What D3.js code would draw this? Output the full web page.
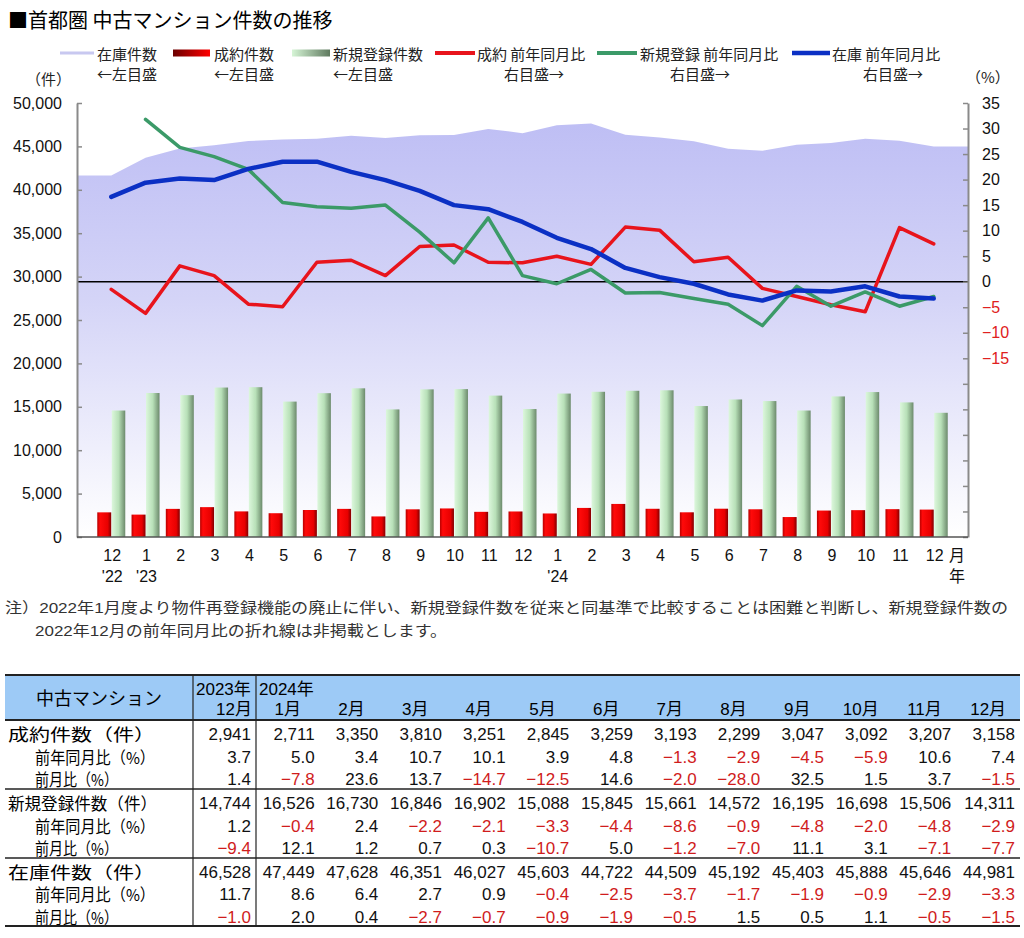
<!DOCTYPE html>
<html>
<head>
<meta charset="utf-8">
<script src="https://cdn.jsdelivr.net/npm/d3@7"></script>
<style>
  body { margin: 0; background: #fff; }
  svg text { font-family: "Liberation Sans", "Noto Sans CJK JP", sans-serif; }
  svg text.jp { font-family: "Noto Sans CJK JP", sans-serif; }
</style>
</head>
<body>
<svg id="chart" width="1024" height="938"></svg>
<script>
// ---- data (Dec 2022 - Dec 2024) ----
const months = ["12","1","2","3","4","5","6","7","8","9","10","11","12","1","2","3","4","5","6","7","8","9","10","11","12"];
const yearLabels = ["'22","'23","","","","","","","","","","","","'24","","","","","","","","","","",""];

// 成約件数
const contracts = [2840, 2580, 3240, 3440, 2950, 2740, 3110, 3240, 2370, 3190, 3290, 2900,
                   2941, 2711, 3350, 3810, 3251, 2845, 3259, 3193, 2299, 3047, 3092, 3207, 3158];
// 新規登録件数
const newListings = [14570, 16590, 16340, 17220, 17260, 15600, 16570, 17130, 14700, 17010, 17040, 16290,
                     14744, 16526, 16730, 16846, 16902, 15088, 15845, 15661, 14572, 16195, 16698, 15506, 14311];
// 在庫件数
const inventory = [41650, 43690, 44760, 45130, 45620, 45790, 45870, 46220, 45970, 46280, 46300, 47010,
                   46528, 47449, 47628, 46351, 46027, 45603, 44722, 44509, 45192, 45403, 45888, 45646, 44981];

// 前年同月比 (%)
const contractYoY = [-1.5, -6.2, 3.1, 1.2, -4.4, -4.9, 3.8, 4.2, 1.2, 6.9, 7.2, 3.8,
                     3.7, 5.0, 3.4, 10.7, 10.1, 3.9, 4.8, -1.3, -2.9, -4.5, -5.9, 10.6, 7.4];
const newYoY = [null, 31.8, 26.3, 24.5, 22.0, 15.5, 14.7, 14.4, 15.0, 9.7, 3.7, 12.5,
                1.2, -0.4, 2.4, -2.2, -2.1, -3.3, -4.4, -8.6, -0.9, -4.8, -2.0, -4.8, -2.9];
const inventoryYoY = [16.6, 19.4, 20.2, 19.9, 22.1, 23.5, 23.5, 21.5, 19.9, 17.8, 15.0, 14.2,
                      11.7, 8.6, 6.4, 2.7, 0.9, -0.4, -2.5, -3.7, -1.7, -1.9, -0.9, -2.9, -3.3];

// 前月比 (%) for the table (Dec 2023 - Dec 2024)
const contractMoM = [1.4, -7.8, 23.6, 13.7, -14.7, -12.5, 14.6, -2.0, -28.0, 32.5, 1.5, 3.7, -1.5];
const newMoM = [-9.4, 12.1, 1.2, 0.7, 0.3, -10.7, 5.0, -1.2, -7.0, 11.1, 3.1, -7.1, -7.7];
const inventoryMoM = [-1.0, 2.0, 0.4, -2.7, -0.7, -0.9, -1.9, -0.5, 1.5, 0.5, 1.1, -0.5, -1.5];

const tableMonths = ["12月","1月","2月","3月","4月","5月","6月","7月","8月","9月","10月","11月","12月"];

const leftTicks = d3.range(0, 50001, 5000);
const rightTicks = d3.range(-50, 36, 5);

// ---- chart ----
const svg = d3.select("#chart");
const plot = {left: 77, right: 968, top: 103, bottom: 537};

const x = d3.scalePoint().domain(d3.range(months.length)).range([plot.left, plot.right]).padding(1);
const yL = d3.scaleLinear().domain([0, 50000]).range([plot.bottom, plot.top]);
const yR = d3.scaleLinear().domain([-50, 35]).range([plot.bottom, plot.top]);

const defs = svg.append("defs");
function grad(id, stops, vertical) {
  const g = defs.append("linearGradient").attr("id", id);
  if (vertical) g.attr("gradientUnits", "userSpaceOnUse").attr("x1", 0).attr("x2", 0).attr("y1", plot.top).attr("y2", plot.bottom);
  else g.attr("x1", 0).attr("x2", 1).attr("y1", 0).attr("y2", 0);
  stops.forEach(s => g.append("stop").attr("offset", s[0]).attr("stop-color", s[1]));
}
grad("areaFill", [[0, "#bcbcf4"], [0.45, "#d4d4f7"], [1, "#ffffff"]], true);
grad("redBar", [[0, "#b80000"], [0.2, "#ff0a0a"], [0.75, "#e80000"], [1, "#800000"]]);
grad("greenBar", [[0, "#dcf7dc"], [0.5, "#b8e0b8"], [1, "#6c8a6c"]]);
grad("redSwatch", [[0, "#6a0000"], [1, "#ff0000"]]);
grad("greenSwatch", [[0, "#d6f5d6"], [1, "#5f7a5f"]]);

// inventory area, stretched flat to the plot edges
const areaPts = [[plot.left, inventory[0]]]
  .concat(inventory.map((v, i) => [x(i), v]))
  .concat([[plot.right, inventory[inventory.length - 1]]]);
svg.append("path")
  .datum(areaPts)
  .attr("fill", "url(#areaFill)")
  .attr("d", d3.area().x(d => d[0]).y0(yL(0)).y1(d => yL(d[1])));

// bars
svg.append("g").selectAll("rect")
  .data(contracts)
  .join("rect")
    .attr("x", (d, i) => x(i) - 14)
    .attr("width", 14)
    .attr("y", d => yL(d))
    .attr("height", d => yL(0) - yL(d))
    .attr("fill", "url(#redBar)");

svg.append("g").selectAll("rect")
  .data(newListings)
  .join("rect")
    .attr("x", (d, i) => x(i) + 0.5)
    .attr("width", 13.5)
    .attr("y", d => yL(d))
    .attr("height", d => yL(0) - yL(d))
    .attr("fill", "url(#greenBar)");

// zero line of the right axis
svg.append("line")
  .attr("x1", plot.left).attr("x2", plot.right)
  .attr("y1", yR(0)).attr("y2", yR(0))
  .attr("stroke", "#000").attr("stroke-width", 1.5);

// axes
const leftAxis = svg.append("g")
  .attr("transform", `translate(${plot.left},0)`)
  .call(d3.axisLeft(yL).tickValues(leftTicks).tickFormat(d3.format(",")).tickSizeInner(-5).tickSizeOuter(0).tickPadding(15));
const rightAxis = svg.append("g")
  .attr("transform", `translate(${plot.right},0)`)
  .call(d3.axisRight(yR).tickValues(rightTicks).tickFormat(d => d >= -15 ? d3.format("d")(d) : "").tickSizeInner(-5).tickSizeOuter(0).tickPadding(14));
[leftAxis, rightAxis].forEach(a => {
  a.select(".domain").attr("stroke", "#8a8a8a").attr("stroke-width", 2);
  a.selectAll(".tick line").attr("stroke", "#8a8a8a").attr("stroke-width", 1.5);
  a.selectAll(".tick text").attr("font-size", 16).attr("fill", "#111");
});
rightAxis.selectAll(".tick text").attr("fill", d => d < 0 ? "#e02020" : "#111");

svg.append("line")
  .attr("x1", plot.left).attr("x2", plot.right)
  .attr("y1", plot.bottom).attr("y2", plot.bottom)
  .attr("stroke", "#555").attr("stroke-width", 1.5);

// x labels
const xl = svg.append("g").attr("font-size", 16).attr("fill", "#111").attr("text-anchor", "middle");
xl.selectAll(".m").data(months).join("text")
  .attr("x", (d, i) => x(i) + 1).attr("y", 555).attr("dominant-baseline", "central").text(d => d);
xl.selectAll(".yr").data(yearLabels).join("text")
  .attr("x", (d, i) => x(i) + 1).attr("y", 576).attr("dominant-baseline", "central").text(d => d);
xl.append("text").attr("x", 957).attr("y", 555).attr("dominant-baseline", "central").text("月");
xl.append("text").attr("x", 957).attr("y", 576).attr("dominant-baseline", "central").text("年");

// lines
const line = d3.line().defined(d => d != null).x((d, i) => x(i)).y(d => yR(d));
[[contractYoY, "#e8141c", 3.5], [newYoY, "#3b9a68", 3.5], [inventoryYoY, "#0b30c4", 4.5]].forEach(s => {
  svg.append("path")
    .datum(s[0])
    .attr("fill", "none")
    .attr("stroke", s[1])
    .attr("stroke-width", s[2])
    .attr("stroke-linejoin", "round")
    .attr("stroke-linecap", "round")
    .attr("d", line);
});

// title
svg.append("text").attr("class", "jp").attr("x", 8).attr("y", 19).attr("dominant-baseline", "central")
  .attr("font-size", 20).attr("fill", "#000").text("■首都圏 中古マンション件数の推移");

// legend
const lg = svg.append("g").attr("font-size", 15).attr("fill", "#222");
const legend = [
  {t1: "在庫件数", t2: "←左目盛", sw: "line", c: "#c8c8f0", w: 3, x0: 60, x1: 94, tx: 97, t2x: 97, a2: "start"},
  {t1: "成約件数", t2: "←左目盛", sw: "rect", c: "url(#redSwatch)", x0: 173, x1: 210, tx: 214, t2x: 214, a2: "start"},
  {t1: "新規登録件数", t2: "←左目盛", sw: "rect", c: "url(#greenSwatch)", x0: 292, x1: 330, tx: 333, t2x: 333, a2: "start"},
  {t1: "成約 前年同月比", t2: "右目盛→", sw: "line", c: "#e8141c", w: 4, x0: 435, x1: 475, tx: 477, t2x: 534, a2: "middle"},
  {t1: "新規登録 前年同月比", t2: "右目盛→", sw: "line", c: "#3b9a68", w: 4, x0: 597, x1: 637, tx: 640, t2x: 700, a2: "middle"},
  {t1: "在庫 前年同月比", t2: "右目盛→", sw: "line", c: "#0b30c4", w: 4.5, x0: 792, x1: 830, tx: 832, t2x: 893, a2: "middle"}
];
legend.forEach(e => {
  if (e.sw === "line") {
    lg.append("line").attr("x1", e.x0).attr("x2", e.x1).attr("y1", 53).attr("y2", 53)
      .attr("stroke", e.c).attr("stroke-width", e.w);
  } else {
    lg.append("rect").attr("x", e.x0).attr("y", 49.5).attr("width", e.x1 - e.x0).attr("height", 7).attr("fill", e.c);
  }
  lg.append("text").attr("class", "jp").attr("x", e.tx).attr("y", 53).attr("dominant-baseline", "central").text(e.t1);
  lg.append("text").attr("class", "jp").attr("x", e.t2x).attr("y", 73).attr("dominant-baseline", "central")
    .attr("text-anchor", e.a2).text(e.t2);
});
lg.append("text").attr("class", "jp").attr("x", 26).attr("y", 78).attr("dominant-baseline", "central").text("（件）");
lg.append("text").attr("class", "jp").attr("x", 966).attr("y", 76).attr("dominant-baseline", "central").text("（%）");

// note
const note = svg.append("g").attr("font-size", 15).attr("fill", "#333");
note.append("text").attr("x", 5).attr("y", 607).attr("dominant-baseline", "central")
  .attr("textLength", 1003).attr("lengthAdjust", "spacingAndGlyphs")
  .text("注）2022年1月度より物件再登録機能の廃止に伴い、新規登録件数を従来と同基準で比較することは困難と判断し、新規登録件数の");
note.append("text").attr("x", 35).attr("y", 630).attr("dominant-baseline", "central")
  .attr("textLength", 412).attr("lengthAdjust", "spacingAndGlyphs")
  .text("2022年12月の前年同月比の折れ線は非掲載とします。");

// ---- table ----
const tb = svg.append("g");
const tLeft = 5, tRight = 1020, c1 = 193, c2 = 256;
const colW = (tRight - c2) / 12;
// right edge of value column j (j = 0 is Dec 2023)
const colRight = j => c2 + j * colW;
const tTop = 675, tHead = 720;

tb.append("rect").attr("x", tLeft).attr("y", tTop).attr("width", tRight - tLeft).attr("height", tHead - tTop).attr("fill", "#9dcaf6");

const last13 = arr => arr.slice(arr.length - 13);
const fmtN = d3.format(",");
const fmtP = d3.format(".1f");
const rows = [
  {label: "成約件数（件）", vals: last13(contracts), fmt: fmtN, ind: 8, tl: 147},
  {label: "前年同月比（%）", vals: last13(contractYoY), fmt: fmtP, ind: 35, tl: 120},
  {label: "前月比（%）", vals: contractMoM, fmt: fmtP, ind: 35, tl: 83},
  {label: "新規登録件数（件）", vals: last13(newListings), fmt: fmtN, ind: 8, tl: 149},
  {label: "前年同月比（%）", vals: last13(newYoY), fmt: fmtP, ind: 35, tl: 120},
  {label: "前月比（%）", vals: newMoM, fmt: fmtP, ind: 35, tl: 83},
  {label: "在庫件数（件）", vals: last13(inventory), fmt: fmtN, ind: 8, tl: 147},
  {label: "前年同月比（%）", vals: last13(inventoryYoY), fmt: fmtP, ind: 35, tl: 120},
  {label: "前月比（%）", vals: inventoryMoM, fmt: fmtP, ind: 35, tl: 83}
];
const rowY = [734, 757, 779, 803, 826, 848, 872, 894, 917];

tb.append("text").attr("class", "jp").attr("x", (tLeft + c1) / 2).attr("y", 697).attr("text-anchor", "middle")
  .attr("dominant-baseline", "central").attr("font-size", 18).text("中古マンション");
tb.append("text").attr("x", c1 + 3).attr("y", 689).attr("dominant-baseline", "central").attr("font-size", 17).text("2023年");
tb.append("text").attr("x", c2 + 3).attr("y", 689).attr("dominant-baseline", "central").attr("font-size", 17).text("2024年");
tb.selectAll(".mh").data(tableMonths).join("text")
  .attr("x", (d, j) => j === 0 ? colRight(0) - 4 : colRight(j) - colW / 2)
  .attr("y", 709)
  .attr("text-anchor", (d, j) => j === 0 ? "end" : "middle")
  .attr("dominant-baseline", "central").attr("font-size", 17).text(d => d);

rows.forEach((r, k) => {
  tb.append("text").attr("class", "jp").attr("x", r.ind).attr("y", rowY[k]).attr("dominant-baseline", "central")
    .attr("font-size", 16.5).attr("textLength", r.tl).attr("lengthAdjust", "spacingAndGlyphs").text(r.label);
  tb.selectAll(null).data(r.vals).join("text")
    .attr("x", (d, j) => colRight(j) - 5)
    .attr("y", rowY[k])
    .attr("text-anchor", "end")
    .attr("dominant-baseline", "central")
    .attr("font-size", 17)
    .attr("fill", d => d < 0 ? "#d01c1c" : "#111")
    .text(d => r.fmt(d));
});

[[tTop, 2], [tHead, 2], [789, 1.5], [858, 1.5], [926, 2]].forEach(h => {
  tb.append("line").attr("x1", tLeft).attr("x2", tRight).attr("y1", h[0]).attr("y2", h[0])
    .attr("stroke", "#222").attr("stroke-width", h[1]);
});
[c1, c2].forEach(cx => {
  tb.append("line").attr("x1", cx).attr("x2", cx).attr("y1", tTop).attr("y2", 926)
    .attr("stroke", "#222").attr("stroke-width", 1.2);
});
</script>
</body>
</html>
